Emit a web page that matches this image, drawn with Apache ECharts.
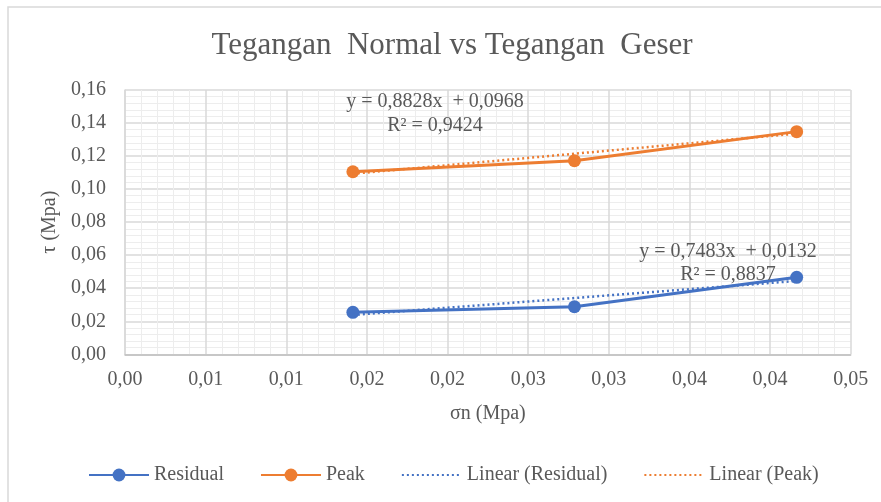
<!DOCTYPE html>
<html>
<head>
<meta charset="utf-8">
<script src="https://cdn.jsdelivr.net/npm/echarts@6/dist/echarts.min.js"></script>
<style>
html,body{margin:0;padding:0;background:#fff;}
#chart{width:881px;height:502px;}
</style>
</head>
<body>
<div id="chart"></div>
<script>
// ---- data ----
const sigmaN = [0.01413, 0.02787, 0.04165];          // σn (Mpa)
const residual = [0.0254, 0.0288, 0.0466];           // τ residual (Mpa)
const peak = [0.1105, 0.1172, 0.1348];               // τ peak (Mpa)
const trendX = [0.01413, 0.04165];                   // trendline ends
const residualTrend = [0.0238, 0.0444];
const peakTrend = [0.1093, 0.1336];
const seriesNames = ['Residual', 'Peak', 'Linear (Residual)', 'Linear (Peak)'];
const eqResidual = ['y = 0,7483x  + 0,0132', 'R² = 0,8837'];
const eqPeak = ['y = 0,8828x  + 0,0968', 'R² = 0,9424'];
const titleText = 'Tegangan  Normal vs Tegangan  Geser';
const xName = 'σn (Mpa)';
const yName = 'τ (Mpa)';

const FONT = '"Liberation Serif", "Times New Roman", serif';
const GREY = '#595959';
const BLUE = '#4472C4';
const ORANGE = '#ED7D31';

const pairs = (xs, ys) => xs.map((x, i) => [x, ys[i]]);
const comma = (v) => (Math.round(v * 100 + 1e-9) / 100).toFixed(2).replace('.', ',');

const chart = echarts.init(document.getElementById('chart'));
chart.setOption({
  backgroundColor: '#fff',
  animation: false,
  title: {
    text: titleText,
    left: 447,
    textAlign: 'center',
    top: 25,
    textStyle: { fontFamily: FONT, fontSize: 31, fontWeight: 'normal', color: GREY }
  },
  grid: { left: 125, right: 30.3, top: 90, bottom: 147.7, containLabel: false },
  legend: {
    data: [
      { name: seriesNames[0] },
      { name: seriesNames[1] },
      { name: seriesNames[2], itemStyle: { opacity: 0 } },
      { name: seriesNames[3], itemStyle: { opacity: 0 } }
    ],
    left: 83,
    top: 460,
    itemWidth: 60,
    itemHeight: 16,
    itemGap: 36,
    textStyle: { fontFamily: FONT, fontSize: 20, color: GREY }
  },
  xAxis: {
    type: 'value',
    min: 0, max: 0.045, interval: 0.005,
    name: xName, nameLocation: 'middle', nameGap: 49,
    nameTextStyle: { fontFamily: FONT, fontSize: 20, color: GREY },
    axisLine: { show: true, onZero: false, lineStyle: { color: '#BFBFBF', width: 1.5 } },
    axisTick: { show: false },
    axisLabel: { fontFamily: FONT, fontSize: 20, color: GREY, margin: 15, formatter: comma },
    splitLine: { show: true, lineStyle: { color: '#D9D9D9', width: 1.5 } },
    minorTick: { show: false, splitNumber: 5 },
    minorSplitLine: { show: true, lineStyle: { color: '#EDEDED', width: 1 } }
  },
  yAxis: {
    type: 'value',
    min: 0, max: 0.16, interval: 0.02,
    name: yName, nameLocation: 'middle', nameGap: 60,
    nameTextStyle: { fontFamily: FONT, fontSize: 20, color: GREY },
    axisLine: { show: true, lineStyle: { color: '#D9D9D9', width: 1.5 } },
    axisTick: { show: false },
    axisLabel: { fontFamily: FONT, fontSize: 20, color: GREY, margin: 19, formatter: comma },
    splitLine: { show: true, lineStyle: { color: '#D9D9D9', width: 1.5 } },
    minorTick: { show: false, splitNumber: 5 },
    minorSplitLine: { show: true, lineStyle: { color: '#EDEDED', width: 1 } }
  },
  series: [
    {
      name: seriesNames[0], type: 'line', data: pairs(sigmaN, residual),
      symbol: 'circle', symbolSize: 13, color: BLUE,
      lineStyle: { color: BLUE, width: 3 }, itemStyle: { color: BLUE }, z: 3
    },
    {
      name: seriesNames[1], type: 'line', data: pairs(sigmaN, peak),
      symbol: 'circle', symbolSize: 13, color: ORANGE,
      lineStyle: { color: ORANGE, width: 3 }, itemStyle: { color: ORANGE }, z: 3
    },
    {
      name: seriesNames[2], type: 'line', data: pairs(trendX, residualTrend),
      symbol: 'none', color: BLUE,
      lineStyle: { color: BLUE, width: 2.5, type: [2, 3] }, z: 4
    },
    {
      name: seriesNames[3], type: 'line', data: pairs(trendX, peakTrend),
      symbol: 'none', color: ORANGE,
      lineStyle: { color: ORANGE, width: 2.5, type: [2, 3] }, z: 4
    }
  ],
  graphic: [
    {
      type: 'rect', silent: true, z: -10,
      shape: { x: 8, y: 7, width: 900, height: 520 },
      style: { fill: 'none', stroke: '#D9D9D9', lineWidth: 1.5 }
    },
    { type: 'text', x: 435, y: 102, z: 100, style: { text: eqPeak[0], font: '20px ' + FONT, fill: GREY, align: 'center', verticalAlign: 'middle' } },
    { type: 'text', x: 435, y: 126, z: 100, style: { text: eqPeak[1], font: '20px ' + FONT, fill: GREY, align: 'center', verticalAlign: 'middle' } },
    { type: 'text', x: 728, y: 252, z: 100, style: { text: eqResidual[0], font: '20px ' + FONT, fill: GREY, align: 'center', verticalAlign: 'middle' } },
    { type: 'text', x: 728, y: 275, z: 100, style: { text: eqResidual[1], font: '20px ' + FONT, fill: GREY, align: 'center', verticalAlign: 'middle' } }
  ]
});
</script>
</body>
</html>
